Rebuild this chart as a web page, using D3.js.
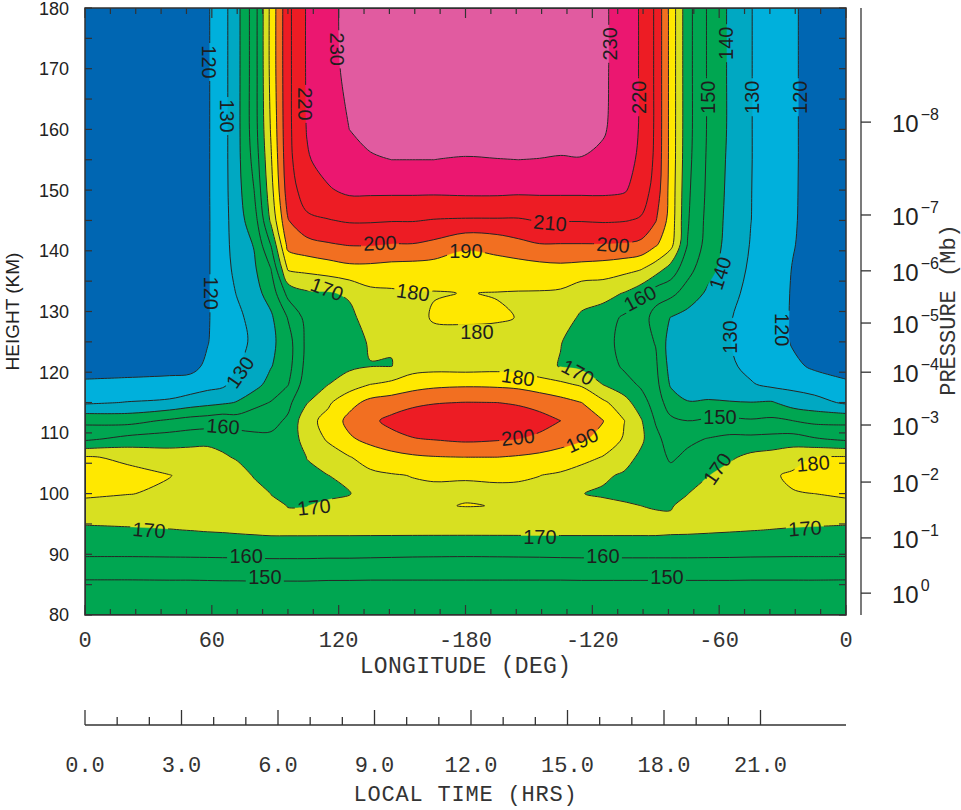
<!DOCTYPE html>
<html>
<head>
<meta charset="utf-8">
<script src="https://cdn.jsdelivr.net/npm/d3@7"></script>
<style>
  body { margin: 0; background: #fff; }
  svg { display: block; }
</style>
</head>
<body>
<svg id="chart" width="961" height="810"></svg>
<script>
// Longitude columns (deg, 0..360 going east from the left edge) and height rows (km)
const longitudes = [0, 20, 40, 50, 58, 65, 72, 80, 88, 96, 105, 115, 125, 135, 145, 155, 165, 180,
                    195, 205, 215, 225, 235, 245, 255, 263, 270, 277, 285, 295, 305, 315, 325, 335, 345, 360];
const heights = [80, 83, 86, 90, 94, 98, 100, 103, 106, 109, 112, 115, 118, 121, 125, 129, 133, 137, 141, 145, 150, 155, 160, 170, 180];

// Temperature (K): one profile per longitude column, bottom (80 km) to top (180 km)
const temperatureByLongitude = [
  [140.6,144.7,150.4,161,168,178,181.2,183,180.8,158,147.6,128.5,121,117.5,115,114,113,112.5,112,111.5,111,110.5,110,109,109],
  [140.6,144.7,150.4,161,169,176.5,180.3,182.2,178.5,163,146.5,130.4,121.5,117.5,115,114,113,112.5,112,111.5,111,110.5,110,109,109],
  [140.6,144.8,150.5,161.2,169.7,176.5,178.8,180.2,175,165,151.5,132,122,117.8,115.5,114.5,113.5,113,112.5,112,111.5,111.5,111,111,111],
  [140.7,144.8,150.5,161.3,170.2,176,177.8,178.3,175,166,154,135,124,117,116,115,114.5,114,114,114,114,114,114,114,114],
  [140.8,144.9,150.6,161.4,170.7,176,177.5,178,175,166.5,155,137,126.5,122,119.5,119,119,119,119,119,119,119,119,119,119],
  [140.8,144.9,150.7,161.5,171,176.5,177.5,177.5,172,165,156.5,138.5,128,126,125.5,125.5,125.5,125.5,125.5,125.5,126,126,126,126,126],
  [140.8,145,150.7,161.6,171.5,177,177.5,176,168.5,165,155,140.5,134,129.7,127.5,128,130.5,133,135,136,136.5,137,137,137,137],
  [140.8,145,150.8,161.8,172,176.5,175,169,164.5,162.5,156,147,136,133,131.5,133,136.5,138.5,140.5,145,150,153,155,155,155],
  [140.7,145,150.8,162,172.5,172,169.8,166.5,164,162,157,150.5,144,139.5,137.5,138.5,144,150,160.5,172,176.5,179,181,183,183],
  [140.7,145,150.8,162,172.5,169.8,167.5,165,164,163,161.5,157.5,149.5,146.5,146,150.5,163,181,193,199.5,205,207,207.5,207.5,207.5],
  [140.7,145,150.8,162,172.5,169.9,168,168.5,170.2,175,177,169.5,166,163.5,162.5,163.5,168.5,182.5,196.5,208,215,219,220.5,221,221],
  [140.6,144.8,150.6,161.8,172.5,171.5,168.5,169.9,176,181,183,178.5,169.8,166.5,164.5,165.5,169,184.5,199,209.5,219,224,226.5,228,228],
  [140.6,144.7,150.6,161.8,172.5,173,169.5,172.5,179.5,188.5,193,186.5,175.5,168,166,167,171.5,187,200.5,211,222,227.5,230,231.5,232],
  [140.5,144.6,150.5,161.6,172.5,175,175.5,178,184,193,198,193,180,169.7,171,175.5,177.5,187,200.5,211,222,229.3,232,233.5,234],
  [140.5,144.5,150.5,161.4,172.5,176,177,179.3,186.5,197,202.5,195,182.5,169.8,170.4,173.5,178.5,186,199.5,210.5,222,230,234,235.5,236],
  [140.5,144.5,150.5,161.2,172.5,177,178,180.3,188.5,199.5,205,198,185.5,176,173,176.5,179.5,185.5,199.5,210.5,222,230,234.5,236.5,237],
  [140.5,144.5,150.5,161.1,172.5,179.2,178.5,180.8,189.5,200.5,205.5,199.5,187.5,176.5,176.5,181,179.5,185,197.5,209.5,222,230,235,237.5,238],
  [140.5,144.5,150.5,161,172.5,180.3,179,180.4,190,202,205.5,200.2,188.4,175.8,177.5,181,180.2,185,191.5,209,222.5,229.5,234,237.5,238.5],
  [140.5,144.5,150.5,161.1,172.5,179.8,178.8,180.8,190,201,205.5,200,188,176.5,177,180.8,179.7,185.5,193.5,209,222.5,229.8,234.5,238,238.5],
  [140.5,144.5,150.5,161.2,172.5,178.5,178.5,180.8,189,200,205,199,187,176,176.5,179.8,179.5,185,197,209,222,230,234.5,237.5,238],
  [140.5,144.5,150.5,161.3,172.5,177.5,178,180.1,187.5,198,203.5,196.5,184.5,173,173,175,179.3,186,199.5,210.5,222,229.8,234,236.5,237],
  [140.5,144.6,150.5,161.5,172.5,176,177,178.8,185,195,200,193.5,182,169.5,170.3,174.5,178.5,187,199.5,210.5,222,229.5,233,235,235.5],
  [140.5,144.6,150.6,161.6,172.5,172.5,170.2,175,183.5,191,194,190,178.5,167.5,166.5,168.5,174,186,199.5,210.5,222,229.7,232.5,233.5,233.5],
  [140.5,144.6,150.6,161.6,172.5,172.5,168.8,171.5,179.5,187.5,190.3,182,169.8,165.5,163.5,165,173.5,185,199.5,211,222,228,231,231.5,231.5],
  [140.5,144.6,150.6,161.6,172.5,171,168,168.8,174,179,180.3,174,164,158.5,157,158.5,169.5,183,199,210.5,221,224,225.5,226,226],
  [140.5,144.6,150.6,161.6,172.5,170,167,166,168,172,171,164.5,158.5,155,153.5,155,164,180.5,197.5,209,215.5,218,219,219,219],
  [140.5,144.6,150.6,161.6,172.5,169.5,167.5,166,164.5,163,159,155.5,153,151.5,149.5,146,154.5,175,191,200.5,206,208,208.5,208.5,208.5],
  [140.5,144.6,150.6,161.6,172,169.5,167,163.5,158.5,155,152,145,139,136.5,135.5,139.8,152.5,166,183.5,186,186.5,187,187,187,187],
  [140.5,144.6,150.6,161.6,171.8,172,169.8,166,162,158,150,140.5,135.5,134,134,136.5,146,153.5,159.8,161,162,163,163.5,163.5,163.5],
  [140.5,144.6,150.6,161.5,171.3,173.5,174,169.8,166.5,160.5,151.5,141,135,133,132.5,133.5,138,143,145.5,146.5,147.5,148,148.5,148.5,148.5],
  [140.5,144.6,150.6,161.4,170.8,175,176,174,168.5,162.5,152,140.5,134,131.5,130.2,130.5,132.5,135,136.5,137,137.5,138,138.5,138.5,138.5],
  [140.5,144.6,150.5,161.2,170.3,176,177.5,177,172.5,162.5,151,140.2,130.8,127.5,126.5,126.8,127.5,128.5,129.5,130.1,130.2,130.3,130.3,130.3,130.3],
  [140.5,144.6,150.5,161.1,169.8,176.5,178.5,179.3,174.5,163,152,140.8,127.8,125.5,125,125,125.2,125.3,125.4,125.5,125.5,125.5,125.5,125.5,125.5],
  [140.5,144.6,150.5,161,169.2,177,179.7,181,177.5,164,150,135.5,127,122,119,118.8,119,119.5,120.5,121,121.2,121.3,121.3,121.3,121.3],
  [140.6,144.7,150.5,161,168.7,177.8,180,182.5,180.4,161,147.5,133.5,125,118.5,116.5,116,116,116,116,116,116,116,116,116,116],
  [140.6,144.7,150.4,161,168,178,181.2,183,180.8,158,147.6,128.5,121,117.5,115,114,113,112.5,112,111.5,111,110.5,110,109,109]
];

// Contour levels and the fill of each band (below 120, 120-130, ..., above 230)
const levels = [120, 130, 140, 150, 160, 170, 180, 190, 200, 210, 220, 230];
const bandColors = ["#0066b2", "#00b0dc", "#00a8c2", "#00a651", "#00a651", "#00a651",
                    "#d8e021", "#ffe800", "#f26f21", "#ed1c24", "#ed1c24", "#eb1770", "#e15ba0"];

// Axes
const heightTicks = [80, 90, 100, 110, 120, 130, 140, 150, 160, 170, 180];
const lonTicks = [0, 60, 120, 180, 240, 300, 360];
const lonTickLabels = ["0", "60", "120", "-180", "-120", "-60", "0"];
const localTimeTicks = [0, 3, 6, 9, 12, 15, 18, 21];
const pressureExponents = [-8, -7, -6, -5, -4, -3, -2, -1, 0];
const pressureHeights = [161.2, 145.9, 136.7, 128.1, 120.0, 111.3, 101.9, 92.7, 83.6];

// Inline contour labels: level, position (lon, km) and text angle (deg)
const contourLabels = [
  {level: 120, lon: 58.7,  h: 171.1, angle: 90},
  {level: 130, lon: 67.2,  h: 162.2, angle: 90},
  {level: 230, lon: 119.2, h: 173.2, angle: 90},
  {level: 220, lon: 104.1, h: 164.2, angle: 90},
  {level: 200, lon: 139.5, h: 141.3, angle: -2},
  {level: 190, lon: 180.2, h: 140.0, angle: 0},
  {level: 210, lon: 220.0, h: 144.6, angle: 5},
  {level: 200, lon: 249.8, h: 141.0, angle: 4},
  {level: 180, lon: 155.2, h: 133.2, angle: 8},
  {level: 170, lon: 114.5, h: 133.7, angle: 20},
  {level: 160, lon: 262.5, h: 132.2, angle: -28},
  {level: 120, lon: 59.6,  h: 133.0, angle: 90},
  {level: 130, lon: 73.3,  h: 120.0, angle: -55},
  {level: 160, lon: 65.3,  h: 111.1, angle: 4},
  {level: 170, lon: 108.3, h: 97.8,  angle: -6},
  {level: 170, lon: 30.3,  h: 94.0,  angle: 4},
  {level: 160, lon: 76.2,  h: 89.7,  angle: 0},
  {level: 150, lon: 85.1,  h: 86.3,  angle: 0},
  {level: 180, lon: 185.4, h: 126.6, angle: 0},
  {level: 180, lon: 204.8, h: 119.2, angle: 8},
  {level: 200, lon: 204.8, h: 109.3, angle: -6},
  {level: 190, lon: 235.1, h: 108.8, angle: -25},
  {level: 170, lon: 233.2, h: 120.0, angle: 28},
  {level: 170, lon: 215.2, h: 92.9,  angle: 0},
  {level: 160, lon: 245.0, h: 89.7,  angle: 0},
  {level: 150, lon: 275.3, h: 86.3,  angle: 0},
  {level: 170, lon: 340.6, h: 94.3,  angle: -4},
  {level: 180, lon: 344.4, h: 105.0, angle: -5},
  {level: 170, lon: 299.0, h: 104.1, angle: -55},
  {level: 150, lon: 300.4, h: 112.6, angle: 0},
  {level: 130, lon: 305.1, h: 125.8, angle: -90},
  {level: 120, lon: 329.7, h: 127.0, angle: 90},
  {level: 140, lon: 300.4, h: 136.3, angle: -72},
  {level: 140, lon: 303.2, h: 174.2, angle: -90},
  {level: 150, lon: 294.7, h: 165.3, angle: -90},
  {level: 130, lon: 315.5, h: 165.3, angle: -90},
  {level: 120, lon: 338.2, h: 165.3, angle: -90},
  {level: 220, lon: 262.1, h: 165.3, angle: -90},
  {level: 230, lon: 248.3, h: 174.1, angle: -90}
];

// ---------------------------------------------------------------
const W = 961, H = 810;
const plot = {left: 85, right: 846, top: 8, bottom: 615};
const svg = d3.select("#chart");

const x = d3.scaleLinear().domain([0, 360]).range([plot.left, plot.right]);
const y = d3.scaleLinear().domain([80, 180]).range([plot.bottom, plot.top]);
const tScale = d3.scaleLinear().domain([0, 24]).range([plot.left, 857]);

const monoFont = "'Liberation Mono', 'DejaVu Sans Mono', monospace";
const sansFont = "'Liberation Sans', Arial, sans-serif";

const defs = svg.append("defs");
defs.append("clipPath").attr("id", "plotClip")
  .append("rect")
  .attr("x", plot.left).attr("y", plot.top)
  .attr("width", plot.right - plot.left).attr("height", plot.bottom - plot.top);

const mask = defs.append("mask").attr("id", "labelGaps")
  .attr("maskUnits", "userSpaceOnUse")
  .attr("x", 0).attr("y", 0).attr("width", W).attr("height", H);
mask.append("rect").attr("width", W).attr("height", H).attr("fill", "white");

// Grid for d3.contours (row-major, row 0 = lowest height)
const nx = longitudes.length, ny = heights.length;
const grid = new Array(nx * ny);
temperatureByLongitude.forEach((col, i) => col.forEach((t, j) => { grid[j * nx + i] = t; }));

// Grid index -> data coordinates (the grid may be unevenly spaced)
const lonAt = d3.scaleLinear().domain(d3.range(nx)).range(longitudes).clamp(true);
const hAt = d3.scaleLinear().domain(d3.range(ny)).range(heights).clamp(true);

const bands = d3.contours().size([nx, ny]).thresholds(levels)(grid);

const smoothRing = d3.line().curve(d3.curveCatmullRomClosed.alpha(0.5));
function ringPath(ring) {
  const pts = [];
  for (let k = 0; k < ring.length - 1; k++) {
    const [u, v] = ring[k];
    const px = x(lonAt(u - 0.5)), py = y(hAt(v - 0.5));
    const onFrame = Math.abs(px - plot.left) < 0.01 || Math.abs(px - plot.right) < 0.01 ||
                    Math.abs(py - plot.top) < 0.01 || Math.abs(py - plot.bottom) < 0.01;
    pts.push([px, py]);
    if (onFrame) pts.push([px, py]);   // keeps the path straight along the frame
  }
  return pts.length > 2 ? smoothRing(pts) : "";
}
function geometryPath(g) {
  return g.coordinates.map(poly => poly.map(ringPath).join("")).join("");
}

const plotG = svg.append("g").attr("clip-path", "url(#plotClip)");
plotG.append("rect")
  .attr("x", plot.left).attr("y", plot.top)
  .attr("width", plot.right - plot.left).attr("height", plot.bottom - plot.top)
  .attr("fill", bandColors[0]);

const paths = bands.map(geometryPath);
plotG.append("g").selectAll("path").data(bands).join("path")
  .attr("d", (d, i) => paths[i])
  .attr("fill", (d, i) => bandColors[i + 1])
  .attr("fill-rule", "evenodd")
  .attr("stroke", (d, i) => bandColors[i + 1])
  .attr("stroke-width", 0.4);

// contour lines, broken where a label sits
contourLabels.forEach(d => {
  mask.append("rect")
    .attr("x", -19).attr("y", -8).attr("width", 38).attr("height", 16)
    .attr("fill", "black")
    .attr("transform", `translate(${x(d.lon)},${y(d.h)}) rotate(${d.angle})`);
});
plotG.append("g").attr("mask", "url(#labelGaps)")
  .selectAll("path").data(bands).join("path")
  .attr("d", (d, i) => paths[i])
  .attr("fill", "none")
  .attr("stroke", "#262626")
  .attr("stroke-width", 1)
  .attr("stroke-linejoin", "round");

plotG.append("g").selectAll("text").data(contourLabels).join("text")
  .attr("transform", d => `translate(${x(d.lon)},${y(d.h)}) rotate(${d.angle})`)
  .attr("text-anchor", "middle")
  .attr("dy", "0.36em")
  .attr("font-family", sansFont)
  .attr("font-size", 20)
  .attr("fill", "#1e1e1e")
  .text(d => d.level);

// frame
svg.append("rect")
  .attr("x", plot.left).attr("y", plot.top)
  .attr("width", plot.right - plot.left).attr("height", plot.bottom - plot.top)
  .attr("fill", "none").attr("stroke", "#333").attr("stroke-width", 1.5);

// inner ticks: heights every 5 km on both sides, longitudes every 12 deg on top and bottom
const axisG = svg.append("g").attr("stroke", "#333").attr("stroke-width", 1.2);
d3.range(80, 181, 5).forEach(h => {
  axisG.append("line").attr("x1", plot.left).attr("x2", plot.left + 7).attr("y1", y(h)).attr("y2", y(h));
  axisG.append("line").attr("x1", plot.right).attr("x2", plot.right - 7).attr("y1", y(h)).attr("y2", y(h));
});
d3.range(0, 361, 12).forEach(l => {
  const len = l % 60 === 0 ? 10 : 6;
  axisG.append("line").attr("x1", x(l)).attr("x2", x(l)).attr("y1", plot.bottom).attr("y2", plot.bottom - len);
  axisG.append("line").attr("x1", x(l)).attr("x2", x(l)).attr("y1", plot.top).attr("y2", plot.top + len);
});

// height axis labels
svg.append("g").selectAll("text").data(heightTicks).join("text")
  .attr("x", 69).attr("y", d => Math.max(y(d), 9)).attr("dy", "0.36em")
  .attr("text-anchor", "end")
  .attr("font-family", sansFont).attr("font-size", 18).attr("fill", "#222")
  .text(d => d);
svg.append("text")
  .attr("transform", `translate(19,${(plot.top + plot.bottom) / 2}) rotate(-90)`)
  .attr("text-anchor", "middle")
  .attr("font-family", sansFont).attr("font-size", 19).attr("fill", "#222")
  .text("HEIGHT (KM)");

// longitude axis labels
svg.append("g").selectAll("text").data(lonTicks).join("text")
  .attr("x", d => x(d)).attr("y", 647)
  .attr("text-anchor", "middle")
  .attr("font-family", monoFont).attr("font-size", 22).attr("fill", "#333")
  .text((d, i) => lonTickLabels[i]);
svg.append("text")
  .attr("x", (plot.left + plot.right) / 2).attr("y", 673)
  .attr("text-anchor", "middle")
  .attr("font-family", monoFont).attr("font-size", 23).attr("letter-spacing", 0.3).attr("fill", "#333")
  .text("LONGITUDE (DEG)");

// local time axis
const timeG = svg.append("g").attr("stroke", "#333").attr("stroke-width", 1.3);
timeG.append("line").attr("x1", plot.left).attr("x2", plot.right).attr("y1", 725).attr("y2", 725);
d3.range(0, 22).forEach(hr => {
  const major = hr % 3 === 0;
  timeG.append("line").attr("x1", tScale(hr)).attr("x2", tScale(hr))
    .attr("y1", 725).attr("y2", major ? 710 : 717);
});
svg.append("g").selectAll("text").data(localTimeTicks).join("text")
  .attr("x", d => tScale(d)).attr("y", 772)
  .attr("text-anchor", "middle")
  .attr("font-family", monoFont).attr("font-size", 22).attr("fill", "#333")
  .text(d => d.toFixed(1));
svg.append("text")
  .attr("x", (plot.left + plot.right) / 2).attr("y", 801)
  .attr("text-anchor", "middle")
  .attr("font-family", monoFont).attr("font-size", 22).attr("letter-spacing", 0.8).attr("fill", "#333")
  .text("LOCAL TIME (HRS)");

// pressure axis on the right
const pG = svg.append("g");
pG.append("line").attr("x1", 861).attr("x2", 861).attr("y1", plot.top).attr("y2", plot.bottom)
  .attr("stroke", "#333").attr("stroke-width", 1.3);
pressureHeights.forEach((h, i) => {
  const py = y(h);
  pG.append("line").attr("x1", 861).attr("x2", 871).attr("y1", py).attr("y2", py)
    .attr("stroke", "#333").attr("stroke-width", 1.3);
  const t = pG.append("text")
    .attr("x", 892).attr("y", py + 10)
    .attr("font-family", sansFont).attr("font-size", 24).attr("fill", "#222");
  t.append("tspan").text("10");
  t.append("tspan").attr("dx", 2).attr("dy", -12).attr("font-size", 16)
    .text(pressureExponents[i] < 0 ? "\u2212" + Math.abs(pressureExponents[i]) : String(pressureExponents[i]));
});
svg.append("text")
  .attr("transform", "translate(955,310) rotate(-90)")
  .attr("text-anchor", "middle")
  .attr("font-family", monoFont).attr("font-size", 22).attr("fill", "#333")
  .text("PRESSURE (Mb)");
</script>
</body>
</html>
